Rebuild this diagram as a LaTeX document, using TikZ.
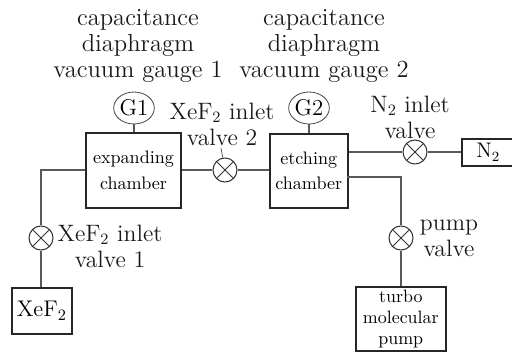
\documentclass[tikz,border=0pt]{standalone}
\usepackage{amsmath}
\usepackage{tikz}
\usetikzlibrary{shapes.geometric}
\tikzset{
  chamber/.style={draw=black!85,line width=0.9pt,inner sep=0pt,align=center,anchor=north west},
  gauge/.style={draw=black!75,ellipse,line width=0.45pt,inner sep=0pt,minimum width=0.77cm,minimum height=0.64cm,font=\fontsize{13}{14}\selectfont},
  valve/.style={draw=black!80,circle,line width=0.6pt,minimum size=0.48cm,inner sep=0pt,
    path picture={\draw[black!80,line width=0.6pt]
      (path picture bounding box.north west)--(path picture bounding box.south east)
      (path picture bounding box.north east)--(path picture bounding box.south west);}},
  pipe/.style={draw=black!65,line width=0.7pt},
  lab/.style={align=center,text=black!90,font=\fontsize{13.5}{14.7}\selectfont},
  toplab/.style={lab,font=\fontsize{14}{14.7}\selectfont}
}
\newcommand{\boxtext}{\fontsize{10.3}{14.7}\selectfont}
\begin{document}
\begin{tikzpicture}[x=0.02cm,y=-0.02cm]
\useasboundingbox (0,0) rectangle (512,352);
% boxes
\node[chamber,minimum width=1.89cm,minimum height=1.5cm,font=\boxtext] (expanding) at (85.5,132) {expanding\\chamber};
\node[chamber,minimum width=1.56cm,minimum height=1.48cm,font=\boxtext] (etching) at (269,133) {etching\\chamber};
\node[chamber,minimum width=1.2cm,minimum height=0.92cm,font=\fontsize{12.9}{14}\selectfont] (xef) at (11,287) {XeF$_2$};
\node[chamber,minimum width=1.14cm,minimum height=0.54cm,font=\fontsize{12}{14}\selectfont] (ntwo) at (461,138) {\hspace*{-0.08cm}N$_2$};
\node[chamber,minimum width=1.8cm,minimum height=1.29cm,font=\fontsize{10.2}{12.2}\selectfont] (turbo) at (355,286) {turbo\\molecular\\pump};
% gauges
\node[gauge] (gone) at (134,108) {G1};
\node[gauge] (gtwo) at (309,108) {G2};
% valves
\node[valve] (valveone) at (41,238) {};
\node[valve] (valvetwo) at (225,170) {};
\node[valve] (valven) at (415,152) {};
\node[valve] (valvep) at (401,238) {};
\coordinate (pumpout) at (347,177);
\coordinate (tick) at (221,148);
% pipes
\draw[pipe] (gone)--(expanding.north -| gone);
\draw[pipe] (gtwo)--(etching.north -| gtwo);
\draw[pipe] (expanding.west |- valvetwo) -| (valveone);
\draw[pipe] (valveone)--(xef.north -| valveone);
\draw[pipe] (expanding.east |- valvetwo)--(valvetwo);
\draw[pipe] (valvetwo)--(etching.west |- valvetwo);
\draw[pipe] (etching.east |- valven)--(valven);
\draw[pipe] (valven)--(ntwo.west |- valven);
\draw[pipe] (pumpout) -| (valvep);
\draw[pipe] (valvep)--(turbo.north -| valvep);
\draw[draw=black!70,line width=0.4pt] (tick)--(valvetwo);
% labels
\node[toplab] (gaugeone) at (138,46) {capacitance\\diaphragm\\vacuum gauge 1};
\node[toplab] (gaugetwo) at (324,46) {capacitance\\diaphragm\\vacuum gauge 2};
\node[lab] (inlettwo) at (222,124) {XeF$_2$ inlet\\valve 2};
\node[lab] (inletone) at (110,246) {XeF$_2$ inlet\\valve 1};
\node[lab] (inletn) at (410,117) {N$_2$ inlet\\valve};
\node[lab] (pumpv) at (449,238) {pump\\valve};
\end{tikzpicture}
\end{document}
